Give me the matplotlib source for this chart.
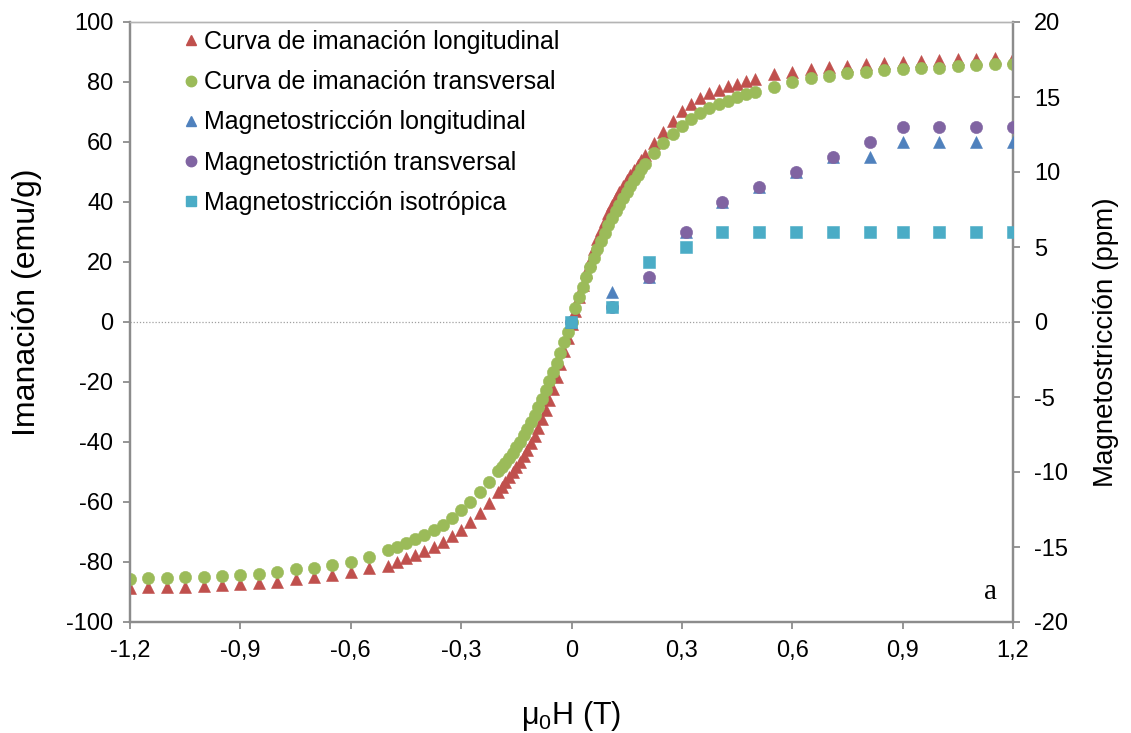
import matplotlib
matplotlib.use("Agg")
import matplotlib.pyplot as plt
from matplotlib.lines import Line2D

plt.rcParams['font.family'] = ['Liberation Sans', 'DejaVu Sans']
plt.rcParams['mathtext.fontset'] = 'custom'
plt.rcParams['mathtext.rm'] = 'Liberation Sans'

# ---- magnetisation curves (left axis, emu/g) ----
# applied field, split by measurement step
H_far_neg = [-1.2, -1.15, -1.1, -1.05, -1.0, -0.95, -0.9, -0.85, -0.8, -0.75, -0.7, -0.65, -0.6, -0.55]
H_mid_neg = [-0.5, -0.475, -0.45, -0.425, -0.4, -0.375, -0.35, -0.325, -0.3, -0.275, -0.25, -0.225]
H_core = [-0.2, -0.19, -0.18, -0.17, -0.16, -0.15, -0.14, -0.13, -0.12, -0.11, -0.1,
          -0.09, -0.08, -0.07, -0.06, -0.05, -0.04, -0.03, -0.02, -0.01, 0.0,
          0.01, 0.02, 0.03, 0.04, 0.05, 0.06, 0.07, 0.08, 0.09, 0.1,
          0.11, 0.12, 0.13, 0.14, 0.15, 0.16, 0.17, 0.18, 0.19, 0.2]
H_mid_pos = [0.225, 0.25, 0.275, 0.3, 0.325, 0.35, 0.375, 0.4, 0.425, 0.45, 0.475, 0.5]
H_far_pos = [0.55, 0.6, 0.65, 0.7, 0.75, 0.8, 0.85, 0.9, 0.95, 1.0, 1.05, 1.1, 1.15, 1.2]

# longitudinal magnetisation
M_long_far_neg = [-88.6, -88.4, -88.2, -88.2, -88.0, -87.7, -87.4, -87.1, -86.6, -85.8, -85.1, -84.3, -83.4, -82.1]
M_long_mid_neg = [-81.3, -79.9, -78.8, -77.7, -76.2, -74.9, -73.2, -71.3, -69.3, -66.6, -63.6, -60.2]
M_long_core = [-56.6, -55.0, -53.3, -51.7, -50.0, -48.3, -46.5, -44.6, -42.6, -40.4, -38.0,
               -35.3, -32.4, -29.3, -25.9, -22.2, -18.2, -14.0, -9.6, -5.2, -0.5,
               3.8, 8.2, 12.5, 16.6, 20.5, 24.2, 27.6, 30.8, 33.7, 36.4,
               38.9, 41.2, 43.3, 45.3, 47.2, 49.0, 50.7, 52.4, 54.0, 55.6]
M_long_mid_pos = [59.6, 63.5, 67.0, 70.2, 72.7, 74.7, 76.2, 77.5, 78.6, 79.5, 80.3, 81.0]
M_long_far_pos = [82.6, 83.4, 84.2, 84.9, 85.3, 86.0, 86.4, 86.8, 87.0, 87.2, 87.6, 87.7, 87.9, 88.1]

# transverse magnetisation
M_tran_far_neg = [-85.7, -85.4, -85.4, -85.1, -84.9, -84.7, -84.3, -84.0, -83.4, -82.4, -81.9, -81.0, -79.9, -78.4]
M_tran_mid_neg = [-76.0, -74.9, -73.8, -72.4, -71.0, -69.3, -67.7, -65.4, -62.7, -59.9, -56.6, -53.2]
M_tran_core = [-49.8, -48.4, -46.9, -45.3, -43.6, -41.8, -39.9, -37.8, -35.6, -33.3, -30.9,
               -28.3, -25.6, -22.8, -19.8, -16.7, -13.5, -10.2, -6.8, -3.3, 0.0,
               4.8, 8.4, 11.8, 15.0, 18.2, 21.3, 24.2, 27.0, 29.7, 32.2,
               34.6, 36.9, 39.1, 41.2, 43.2, 45.2, 47.2, 49.1, 50.9, 52.7]
M_tran_mid_pos = [56.4, 59.8, 62.7, 65.3, 67.6, 69.6, 71.2, 72.6, 73.8, 74.9, 75.9, 76.8]
M_tran_far_pos = [78.4, 79.9, 81.2, 82.1, 82.9, 83.2, 83.9, 84.2, 84.6, 84.8, 85.3, 85.6, 85.9, 86.1]

# ---- magnetostriction (right axis, ppm) ----
H_ms = [0.0, 0.11, 0.21, 0.31, 0.41, 0.51, 0.61, 0.71, 0.81, 0.9, 1.0, 1.1, 1.2]
lam_long = [0, 2, 3, 6, 8, 9, 10, 11, 11, 12, 12, 12, 12]
lam_tran = [0, 1, 3, 6, 8, 9, 10, 11, 12, 13, 13, 13, 13]
lam_iso = [0, 1, 4, 5, 6, 6, 6, 6, 6, 6, 6, 6, 6]

x_ticks = [-1.2, -0.9, -0.6, -0.3, 0.0, 0.3, 0.6, 0.9, 1.2]
x_tick_labels = ['-1,2', '-0,9', '-0,6', '-0,3', '0', '0,3', '0,6', '0,9', '1,2']
yl_ticks = [-100, -80, -60, -40, -20, 0, 20, 40, 60, 80, 100]
yr_ticks = [-20, -15, -10, -5, 0, 5, 10, 15, 20]

labels = ['Curva de imanación longitudinal', 'Curva de imanación transversal',
          'Magnetostricción longitudinal', 'Magnetostrictión transversal',
          'Magnetostricción isotrópica']

RED, GREEN, BLUE, PURPLE, CYAN = '#C0504D', '#9BBB59', '#4F81BD', '#8064A2', '#4BACC6'
AXIS_GREY = '#8C8C8C'

H_all = H_far_neg + H_mid_neg + H_core + H_mid_pos + H_far_pos
M_long = M_long_far_neg + M_long_mid_neg + M_long_core + M_long_mid_pos + M_long_far_pos
M_tran = M_tran_far_neg + M_tran_mid_neg + M_tran_core + M_tran_mid_pos + M_tran_far_pos

fig = plt.figure(figsize=(11.31, 7.33), dpi=100)
ax = fig.add_axes([130 / 1131, 1 - 622 / 733, 883 / 1131, 600 / 733])
ax2 = ax.twinx()

ax.axhline(0, color='#A0A0A0', lw=0.9, ls=(0, (1, 1.5)), zorder=1)

ms_curve = 8.8
ax.plot(H_all, M_long, ls='none', marker='^', ms=ms_curve, color=RED, mec=RED, mew=0.4, zorder=3)
ax.plot(H_all, M_tran, ls='none', marker='o', ms=ms_curve, color=GREEN, mec=GREEN, mew=0.4, zorder=4)

ms_lam = 8.8
ax2.plot(H_ms, lam_long, ls='none', marker='^', ms=ms_lam, color=BLUE, mec=BLUE, mew=0.4, zorder=3)
ax2.plot(H_ms, lam_tran, ls='none', marker='o', ms=ms_lam, color=PURPLE, mec=PURPLE, mew=0.4, zorder=4)
ax2.plot(H_ms, lam_iso, ls='none', marker='s', ms=ms_lam - 0.6, color=CYAN, mec=CYAN, mew=0.4, zorder=5)

ax.set_xlim(-1.2, 1.2)
ax.set_ylim(-100, 100)
ax2.set_ylim(-20, 20)
ax.set_xticks(x_ticks)
ax.set_xticklabels(x_tick_labels)
ax.set_yticks(yl_ticks)
ax.set_yticklabels([str(v) for v in yl_ticks])
ax2.set_yticks(yr_ticks)
ax2.set_yticklabels([str(v) for v in yr_ticks])

for a in (ax, ax2):
    for side in ('left', 'right', 'bottom'):
        a.spines[side].set_color(AXIS_GREY)
        a.spines[side].set_linewidth(1.6)
    a.spines['top'].set_color('#B4B4B4')
    a.spines['top'].set_linewidth(1.0)
    a.tick_params(direction='out', length=5, width=1.3, color=AXIS_GREY,
                  labelsize=17, labelcolor='black')
ax.tick_params(axis='y', pad=7)
ax.tick_params(axis='x', pad=8)
ax2.tick_params(axis='y', pad=10)

fig.text(27 / 1131, 1 - 302 / 733, 'Imanación (emu/g)', rotation=90,
         ha='center', va='center', fontsize=23)
fig.text(1106 / 1131, 1 - 342 / 733, 'Magnetostricción (ppm)', rotation=90,
         ha='center', va='center', fontsize=20)
fig.text(571 / 1131, 1 - 716 / 733, r'μ$\mathregular{_0}$H (T)',
         ha='center', va='center', fontsize=22)
ax.text(0.974, 0.05, 'a', transform=ax.transAxes, ha='center', va='center',
        fontsize=21, family=['Liberation Serif'])

handles = [
    Line2D([], [], ls='none', marker='^', ms=7.5, color=RED),
    Line2D([], [], ls='none', marker='o', ms=7.5, color=GREEN),
    Line2D([], [], ls='none', marker='^', ms=7.5, color=BLUE),
    Line2D([], [], ls='none', marker='o', ms=7.5, color=PURPLE),
    Line2D([], [], ls='none', marker='s', ms=7, color=CYAN),
]
leg = ax2.legend(handles, labels, loc='upper left', bbox_to_anchor=(183 / 1131, 1 - 30 / 733),
                 bbox_transform=fig.transFigure, frameon=False, fontsize=18,
                 handlelength=0.6, handletextpad=0.25, labelspacing=0.65, borderpad=0.0,
                 borderaxespad=0.0)
leg.set_zorder(10)

fig.savefig('out.png', dpi=100)
